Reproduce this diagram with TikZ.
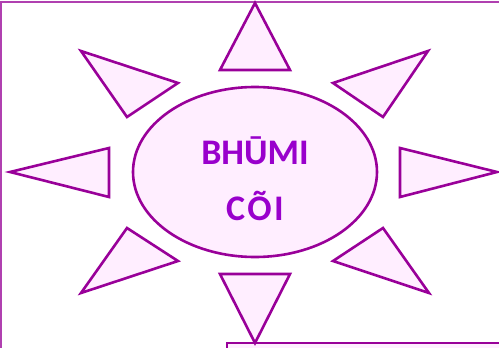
\documentclass[tikz,border=0pt]{standalone}
\usepackage{fontspec}
\setmainfont{Carlito}
\definecolor{sunline}{HTML}{990099}
\definecolor{sunfill}{HTML}{FFEEFF}
\definecolor{suntext}{HTML}{9900CC}
\definecolor{framec}{HTML}{B040B0}
\tikzset{
  ray/.style={draw=sunline, fill=sunfill, line width=2.6pt, line join=miter},
  suntext/.style={text=suntext, font=\bfseries\fontsize{36}{36}\selectfont, anchor=base, inner sep=0pt},
  framel/.style={draw=framec, line width=1.6pt}
}
\begin{document}
\begin{tikzpicture}[x=1pt,y=-1pt]
\useasboundingbox (0,0) rectangle (499,348);
% frame
\draw[framel] (1,348) -- (1,2) -- (499,2);
% bottom box
\draw[ray] (227,352) -- (227,343) -- (505,343) -- (505,352);
% rays
\draw[ray] (255,3) -- (290,70) -- (220,70) -- cycle;
\draw[ray] (255,343) -- (290,274) -- (220,274) -- cycle;
\draw[ray] (10,172) -- (109,148) -- (109,197) -- cycle;
\draw[ray] (497,172) -- (400,148) -- (400,197) -- cycle;
\draw[ray] (81,51) -- (178,83) -- (127,117) -- cycle;
\draw[ray] (428,51) -- (333,83) -- (383,117) -- cycle;
\draw[ray] (127,228) -- (178,261) -- (81,293) -- cycle;
\draw[ray] (383,228) -- (333,261) -- (429,293) -- cycle;
% center
\draw[ray] (255,172) ellipse [x radius=122, y radius=85];
\node[suntext] (t1) at (255,164) {BHŪMI};
\node[suntext] (t2) at (255,220) {\addfontfeature{LetterSpace=7}CÕI};
\end{tikzpicture}
\end{document}
